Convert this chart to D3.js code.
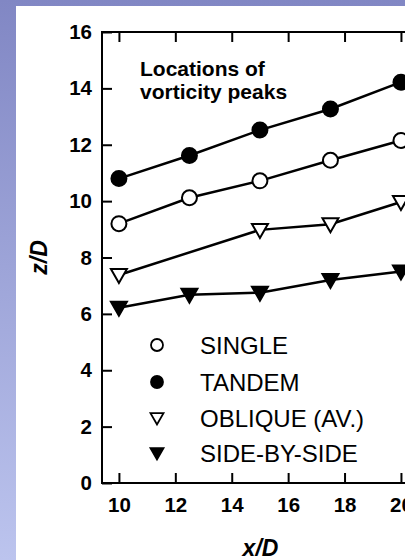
<!DOCTYPE html>
<html lang="en">
<head>
<meta charset="utf-8">
<title>Locations of vorticity peaks</title>
<script src="https://cdn.jsdelivr.net/npm/d3@7"></script>
<style>
  body { margin: 0; }
  svg { display: block; font-family: "Liberation Sans", Arial, sans-serif; }
</style>
</head>
<body>
<div id="chart"></div>
<script>
// data
const xTicks = [10, 12, 14, 16, 18, 20];
const yTicks = [0, 2, 4, 6, 8, 10, 12, 14, 16];

const xSingle = [10, 12.5, 15, 17.5, 20];
const zSingle = [9.2, 10.12, 10.72, 11.45, 12.15];

const xTandem = [10, 12.5, 15, 17.5, 20];
const zTandem = [10.8, 11.62, 12.52, 13.27, 14.22];

const xOblique = [10, 15, 17.5, 20];
const zOblique = [7.38, 8.98, 9.18, 9.97];

const xSide = [10, 12.5, 15, 17.5, 20];
const zSide = [6.22, 6.68, 6.75, 7.2, 7.5];

const legendNames = ["SINGLE", "TANDEM", "OBLIQUE (AV.)", "SIDE-BY-SIDE"];

const width = 405, height = 560;
const plotL = 102, plotT = 32, plotR = 419, plotB = 483;

const svg = d3.select("#chart").append("svg")
  .attr("width", width).attr("height", height);

const defs = svg.append("defs");
const grad = defs.append("linearGradient").attr("id", "bg")
  .attr("x1", 0).attr("y1", 0).attr("x2", 0).attr("y2", 1);
grad.append("stop").attr("offset", "0%").attr("stop-color", "#8187c4");
grad.append("stop").attr("offset", "100%").attr("stop-color", "#bcc4ee");

svg.append("rect").attr("width", width).attr("height", height).attr("fill", "url(#bg)");
svg.append("rect").attr("x", 16).attr("y", 6).attr("width", width - 16).attr("height", height - 6)
  .attr("fill", "#fff");

const x = d3.scaleLinear().domain([9.4, 20.64]).range([plotL, plotR]);
const y = d3.scaleLinear().domain([0, 16]).range([plotB, plotT]);

// frame
svg.append("rect").attr("x", plotL).attr("y", plotT)
  .attr("width", plotR - plotL).attr("height", plotB - plotT)
  .attr("fill", "none").attr("stroke", "#000").attr("stroke-width", 2);

// axes with inward ticks
const axisStyle = g => {
  g.select(".domain").remove();
  g.selectAll(".tick line").attr("stroke", "#000").attr("stroke-width", 2);
};

svg.append("g").attr("transform", `translate(0,${plotB})`)
  .call(d3.axisBottom(x).tickValues(xTicks).tickSizeInner(-10).tickPadding(14).tickFormat(d3.format("d")))
  .call(axisStyle)
  .call(g => g.selectAll("text").attr("font-size", 20.5).attr("font-weight", "bold")
    .attr("fill", "#000").attr("font-family", "Liberation Sans, Arial, sans-serif"));

svg.append("g").attr("transform", `translate(0,${plotT})`)
  .call(d3.axisTop(x).tickValues(xTicks).tickSizeInner(-10).tickFormat(""))
  .call(axisStyle);

svg.append("g").attr("transform", `translate(${plotL},0)`)
  .call(d3.axisLeft(y).tickValues(yTicks).tickSizeInner(-10).tickPadding(10).tickFormat(d3.format("d")))
  .call(axisStyle)
  .call(g => g.selectAll("text").attr("font-size", 20.5).attr("font-weight", "bold")
    .attr("fill", "#000").attr("font-family", "Liberation Sans, Arial, sans-serif"));

// axis titles
svg.append("text").attr("x", (plotL + plotR) / 2).attr("y", 556)
  .attr("text-anchor", "middle").attr("font-size", 23).attr("font-weight", "bold")
  .attr("font-style", "italic").text("x/D");

svg.append("text").attr("transform", `translate(47,${(plotT + plotB) / 2}) rotate(-90)`)
  .attr("text-anchor", "middle").attr("font-size", 23).attr("font-weight", "bold")
  .attr("font-style", "italic").text("z/D");

// annotation
const note = svg.append("text").attr("font-size", 21).attr("font-weight", "bold");
note.append("tspan").attr("x", 140).attr("y", 76).text("Locations of");
note.append("tspan").attr("x", 140).attr("y", 99).text("vorticity peaks");

// markers
const triDown = s => `M${-s},${-s * 0.75}L${s},${-s * 0.75}L0,${s}Z`;

const series = [
  { xs: xSingle, zs: zSingle, shape: "circle", fill: "#fff" },
  { xs: xTandem, zs: zTandem, shape: "circle", fill: "#000" },
  { xs: xOblique, zs: zOblique, shape: "tri", fill: "#fff" },
  { xs: xSide, zs: zSide, shape: "tri", fill: "#000" }
];

const line = d3.line().x(d => x(d[0])).y(d => y(d[1]));

series.forEach(s => {
  const pts = s.xs.map((v, i) => [v, s.zs[i]]);
  svg.append("path").datum(pts).attr("d", line)
    .attr("fill", "none").attr("stroke", "#000").attr("stroke-width", 2.5);
  const g = svg.append("g");
  if (s.shape === "circle") {
    g.selectAll("circle").data(pts).join("circle")
      .attr("cx", d => x(d[0])).attr("cy", d => y(d[1])).attr("r", 7.5)
      .attr("fill", s.fill).attr("stroke", "#000").attr("stroke-width", 2);
  } else {
    g.selectAll("path").data(pts).join("path")
      .attr("transform", d => `translate(${x(d[0])},${y(d[1])})`)
      .attr("d", triDown(8))
      .attr("fill", s.fill).attr("stroke", "#000").attr("stroke-width", 2);
  }
});

// legend
const legY = [345, 382, 418, 453];
const leg = svg.append("g");
series.forEach((s, i) => {
  if (s.shape === "circle") {
    leg.append("circle").attr("cx", 157).attr("cy", legY[i]).attr("r", 6)
      .attr("fill", s.fill).attr("stroke", "#000").attr("stroke-width", 1.8);
  } else {
    leg.append("path").attr("transform", `translate(157,${legY[i]})`)
      .attr("d", triDown(6.5))
      .attr("fill", s.fill).attr("stroke", "#000").attr("stroke-width", 1.8);
  }
  leg.append("text").attr("x", 200).attr("y", legY[i]).attr("dy", "0.36em")
    .attr("font-size", 24).text(legendNames[i]);
});
</script>
</body>
</html>
